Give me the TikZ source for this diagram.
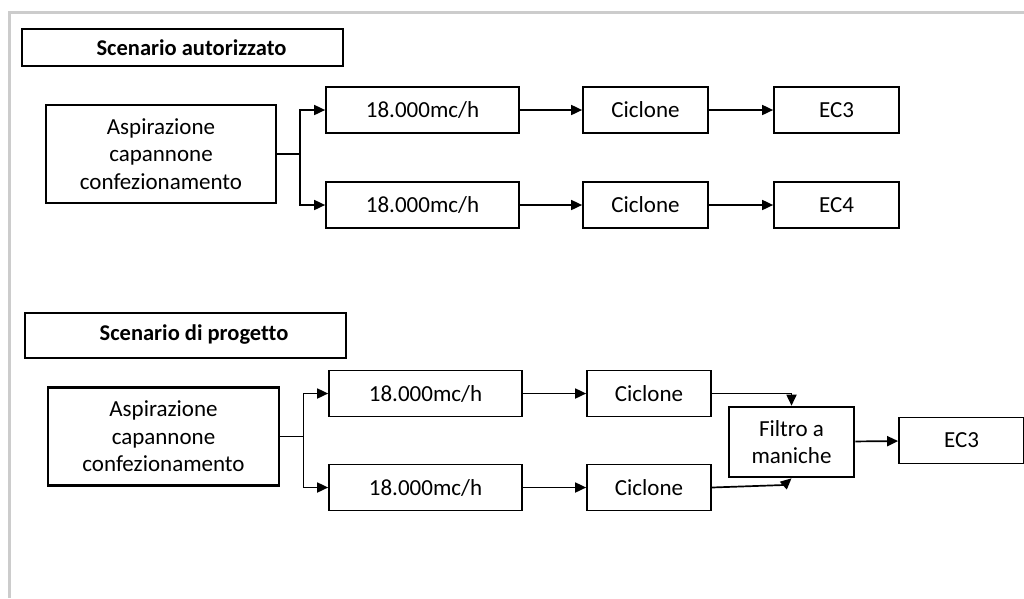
\documentclass[tikz,border=0pt]{standalone}
\usepackage{fontspec}
\setmainfont[Ligatures=NoCommon]{Carlito}
\usepackage{tikz}
\usetikzlibrary{arrows.meta}

\begin{document}
\begin{tikzpicture}[x=1pt, y=-1pt,
	testo/.style={font=\fontsize{23}{27.5}\selectfont},
	blocco/.style={testo, draw, line width=1.7pt, inner sep=0pt, minimum width=#1, minimum height=46pt, align=center},
	blocco/.default=125pt,
	fonte/.style={testo, draw, line width=2.6pt, inner sep=0pt, minimum width=230pt, minimum height=98pt, align=center},
	titolo/.style={draw, line width=2pt, inner sep=0pt, minimum width=321pt},
	freccia/.style={line width=1.7pt, -{Triangle[length=11pt,width=10pt]}}]
	\useasboundingbox (0,0) rectangle (1024,598);
	\draw[color=black!20, line width=3pt] (1024,12) -- (9.5,12) -- (9.5,598);

	% Scenario autorizzato
	\node[titolo, minimum height=37pt] (tit1) at (182,47.5) {};
	\node[testo, font=\fontsize{22.5}{27.5}\selectfont\bfseries] (tit1txt) at (191.5,48) {Scenario autorizzato};
	\node[fonte] (asp1) at (161,154) {Aspirazione\\capannone\\confezionamento};
	\node[blocco=193pt] (port1a) at (422.5,110) {18.000mc/h};
	\node[blocco=193pt] (port1b) at (422.5,205) {18.000mc/h};
	\node[blocco] (cic1a) at (645.5,110) {Ciclone};
	\node[blocco] (cic1b) at (645.5,205) {Ciclone};
	\node[blocco] (ec1a) at (836.5,110) {EC3};
	\node[blocco] (ec1b) at (836.5,205) {EC4};
	\coordinate (nodo1) at (300,154);
	\draw[line width=1.7pt] (asp1.east) -- (nodo1);
	\draw[freccia] (nodo1) |- (port1a.west);
	\draw[freccia] (nodo1) |- (port1b.west);
	\draw[freccia] (port1a) -- (cic1a);
	\draw[freccia] (port1b) -- (cic1b);
	\draw[freccia] (cic1a) -- (ec1a);
	\draw[freccia] (cic1b) -- (ec1b);

	% Scenario di progetto
	\node[titolo, minimum height=45pt] (tit2) at (185.5,335) {};
	\node[testo, font=\fontsize{22.5}{27.5}\selectfont\bfseries] (tit2txt) at (194,335) {Scenario di progetto};
	\node[fonte, minimum width=231pt] (asp2) at (163.5,436.5) {Aspirazione\\capannone\\confezionamento};
	\node[blocco=193pt] (port2a) at (425.5,393.5) {18.000mc/h};
	\node[blocco=193pt] (port2b) at (425.5,487.5) {18.000mc/h};
	\node[blocco=124pt] (cic2a) at (649,393.5) {Ciclone};
	\node[blocco=124pt] (cic2b) at (649,487.5) {Ciclone};
	\node[blocco, line width=2.6pt, minimum height=70pt] (filtro) at (791.5,442) {Filtro a\\maniche};
	\node[blocco] (ec2) at (961.5,440.5) {EC3};
	\coordinate (nodo2) at (303.5,436.5);
	\coordinate (gomito) at (784,485);
	\draw[line width=1.7pt] (asp2.east) -- (nodo2);
	\draw[freccia] (nodo2) |- (port2a.west);
	\draw[freccia] (nodo2) |- (port2b.west);
	\draw[freccia] (port2a) -- (cic2a);
	\draw[freccia] (port2b) -- (cic2b);
	\draw[freccia] (cic2a.east) -| (filtro.north);
	\draw[freccia] (cic2b.east) -- (gomito) -- (filtro.south);
	\draw[freccia] (filtro) -- (ec2);
\end{tikzpicture}
\end{document}
